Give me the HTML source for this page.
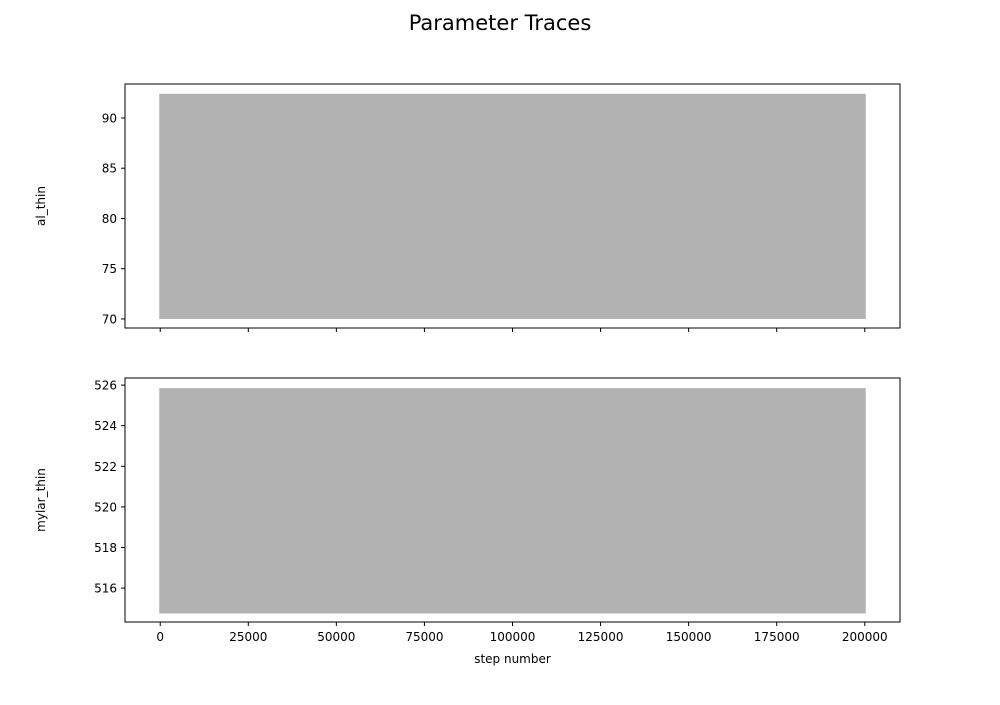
<!DOCTYPE html>
<html><head><meta charset="utf-8"><style>
body{margin:0;background:#fff;}
svg text{font-family:"DejaVu Sans","Liberation Sans",sans-serif;font-size:12px;fill:#000;}
</style></head><body>
<svg id="chart" width="1000" height="700" xmlns="http://www.w3.org/2000/svg">
<text x="500" y="30" text-anchor="middle" style="font-size:21px">Parameter Traces</text>
</svg>
<script>
const stepRange = [0, 200000];
const xTicks = [0, 25000, 50000, 75000, 100000, 125000, 150000, 175000, 200000];
const paramNames = ["al_thin", "mylar_thin"];
const paramMin = [70.0, 514.75];
const paramMax = [92.4, 525.85];
const yLimLo = [69.1, 514.33];
const yLimHi = [93.38, 526.35];
const yTicks0 = [70, 75, 80, 85, 90];
const yTicks1 = [516, 518, 520, 522, 524, 526];
const yTicksAll = [yTicks0, yTicks1];

const svg = document.getElementById('chart');
const NS = 'http://www.w3.org/2000/svg';
function mk(tag, attrs, parent) {
  const e = document.createElementNS(NS, tag);
  for (const k in attrs) e.setAttribute(k, attrs[k]);
  (parent || svg).appendChild(e);
  return e;
}
const L = 125, R = 900;
const panels = [{top: 84, bot: 328}, {top: 378, bot: 622}];
const xs0 = stepRange[0], xs1 = stepRange[1], xm = (xs1 - xs0) * 0.05;
function xScale(v) { return L + (v - (xs0 - xm)) / ((xs1 + xm) - (xs0 - xm)) * (R - L); }

panels.forEach((p, i) => {
  const lo = paramMin[i], hi = paramMax[i];
  const y0 = yLimLo[i], y1 = yLimHi[i];
  const yScale = v => p.bot - (v - y0) / (y1 - y0) * (p.bot - p.top);
  const g = mk('g', {});
  
  
  const r = mk('rect', {x: xScale(stepRange[0]) - 1, y: yScale(hi), width: xScale(stepRange[1]) - xScale(stepRange[0]) + 2, height: yScale(lo) - yScale(hi), fill: '#b2b2b2'}, g);
  
  
  const fr = mk('rect', {x: L, y: p.top, width: R - L, height: p.bot - p.top, fill: 'none', stroke: '#000', 'stroke-width': 1}, g);
  
  
  yTicksAll[i].forEach(t => {
    const y = yScale(t);
    mk('line', {x1: L - 4, x2: L, y1: y, y2: y, stroke: '#000'}, g);
    const tx = mk('text', {x: L - 8, y: y + 4.5, 'text-anchor': 'end'}, g);
    tx.textContent = t;
    
    
  });
  xTicks.forEach(t => {
    const x = xScale(t);
    mk('line', {x1: x, x2: x, y1: p.bot, y2: p.bot + 4, stroke: '#000'}, g);
    if (i === 1) {
      const tx = mk('text', {x: x, y: p.bot + 19, 'text-anchor': 'middle'}, g);
      tx.textContent = t;
      
      
    }
  });
  const cy = (p.top + p.bot) / 2;
  const yl = mk('text', {x: 45, y: cy, 'text-anchor': 'middle', transform: 'rotate(-90 45 ' + cy + ')'}, g);
  yl.textContent = paramNames[i];
  
  
});
const xl = mk('text', {x: (L + R) / 2, y: 663, 'text-anchor': 'middle'});
xl.textContent = 'step number';


</script>
</body></html>
